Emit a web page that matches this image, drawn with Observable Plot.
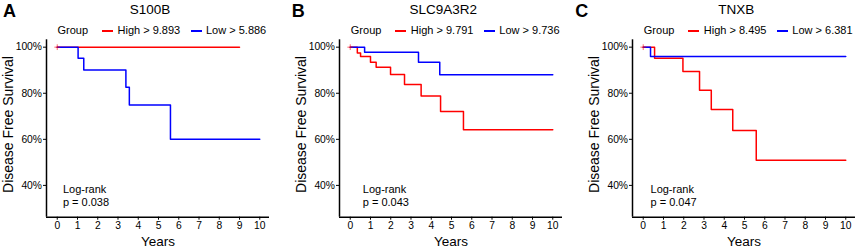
<!DOCTYPE html>
<html><head><meta charset="utf-8">
<script src="https://cdn.jsdelivr.net/npm/d3@7"></script>
<script src="https://cdn.jsdelivr.net/npm/@observablehq/plot@0.6"></script>
<style>
body{margin:0;background:#fff;font-family:"Liberation Sans",Arial,Helvetica,sans-serif;}
#wrap{position:relative;width:858px;height:249px;overflow:hidden;background:#fff;}
.abs{position:absolute;white-space:nowrap;line-height:1;color:#000;}
.letter{font-size:18px;font-weight:bold;}
.title{font-size:13.5px;transform:translateX(-50%);}
.leg{font-size:11px;}
.sw{position:absolute;height:2px;width:11px;}
svg{position:absolute;top:0;}
</style></head><body><div id="wrap"></div>
<script>
// ---- data ----
const panelLetters = ["A", "B", "C"];
const genes = ["S100B", "SLC9A3R2", "TNXB"];
const legendTitle = "Group";
const highLabels = ["High > 9.893", "High > 9.791", "High > 8.495"];
const lowLabels = ["Low > 5.886", "Low > 9.736", "Low > 6.381"];
const pValues = ["p = 0.038", "p = 0.043", "p = 0.047"];
const xTicks = [0, 1, 2, 3, 4, 5, 6, 7, 8, 9, 10];
const yTicks = [0.4, 0.6, 0.8, 1.0];
const xLabel = "Years";
const yLabel = "Disease Free Survival";

// Panel A: S100B
const aHighTime = [0, 9];
const aHighSurv = [1, 1];
const aLowTime = [0, 1.03, 1.31, 3.39, 3.56, 5.59, 10];
const aLowSurv = [1, 0.952, 0.901, 0.826, 0.749, 0.600, 0.600];
// Panel B: SLC9A3R2
const bHighTime = [0, 0.35, 0.51, 1.0, 1.28, 1.99, 2.68, 3.5, 4.46, 5.59, 10];
const bHighSurv = [1, 0.975, 0.959, 0.935, 0.913, 0.881, 0.838, 0.788, 0.721, 0.642, 0.642];
const bLowTime = [0, 0.71, 3.37, 4.42, 10];
const bLowSurv = [1, 0.978, 0.935, 0.880, 0.880];
// Panel C: TNXB
const cHighTime = [0, 0.56, 1.96, 2.78, 3.36, 4.42, 5.58, 10];
const cHighSurv = [1, 0.952, 0.894, 0.813, 0.729, 0.638, 0.509, 0.509];
const cLowTime = [0, 0.36, 10];
const cLowSurv = [1, 0.959, 0.959];

const logRankX = [0.28, 0.62, 0.36];
const logRankY = 0.3575;

const highColor = "#ff0000";
const lowColor = "#0000ff";

// ---- layout ----
const axisX = [46, 339.3, 632.3];
const plotW = 223;
const xDomain = [-0.53, 10.48];
const yDomain = [0.262, 1.032];

const zip = (t, s) => t.map((v, i) => ({t: v, s: s[i]}));
const highs = [zip(aHighTime, aHighSurv), zip(bHighTime, bHighSurv), zip(cHighTime, cHighSurv)];
const lows = [zip(aLowTime, aLowSurv), zip(bLowTime, bLowSurv), zip(cLowTime, cLowSurv)];

const wrap = document.getElementById("wrap");
const font = '"Liberation Sans", Arial, Helvetica, sans-serif';

function addDiv(cls, text, left, top, extra) {
  const d = document.createElement("div");
  d.className = "abs " + cls;
  d.textContent = text;
  d.style.left = left + "px";
  d.style.top = top + "px";
  if (extra) Object.assign(d.style, extra);
  wrap.appendChild(d);
  return d;
}
function addSwatch(left, top, color) {
  const d = document.createElement("div");
  d.className = "sw";
  d.style.left = left + "px";
  d.style.top = top + "px";
  d.style.backgroundColor = color;
  wrap.appendChild(d);
}

for (let i = 0; i < 3; i++) {
  const left = axisX[i] - 46;
  const w = i < 2 ? 293 : 858 - left;
  const plot = Plot.plot({
    width: w,
    height: 249,
    marginLeft: 46,
    marginRight: w - 46 - plotW,
    marginTop: 39.3,
    marginBottom: 32.3,
    style: {background: "transparent", fontFamily: font, fontSize: "10.3px", color: "#000", overflow: "visible"},
    x: {domain: xDomain, ticks: xTicks, tickSize: 3, tickPadding: 1.2, label: null},
    y: {domain: yDomain, ticks: yTicks, tickFormat: d3.format(".0%"), tickSize: 3, tickPadding: 1.5, label: null},
    marks: [
      Plot.ruleX([xDomain[0]], {stroke: "#000", strokeWidth: 1.5}),
      Plot.ruleY([yDomain[0]], {stroke: "#000", strokeWidth: 1.5}),
      Plot.line(highs[i], {x: "t", y: "s", curve: "step-after", stroke: highColor, strokeWidth: 1.5}),
      Plot.line(lows[i], {x: "t", y: "s", curve: "step-after", stroke: lowColor, strokeWidth: 1.5}),
      Plot.dot([highs[i][0]], {x: "t", y: "s", symbol: "plus", r: 2, stroke: highColor, strokeWidth: 1, strokeOpacity: 0.6}),
      Plot.text([{x: logRankX[i], y: logRankY, label: "Log-rank\n" + pValues[i]}], {
        x: "x", y: "y", text: "label", textAnchor: "start", lineAnchor: "middle",
        lineHeight: 1.25, fontSize: 11, fill: "#000"
      }),
      Plot.text([yLabel], {frameAnchor: "left", textAnchor: "middle", lineAnchor: "middle", rotate: -90, dx: -38, dy: -4, fontSize: 14, fill: "#000"}),
      Plot.text([xLabel], {frameAnchor: "bottom", textAnchor: "middle", lineAnchor: "top", dy: 18.8, fontSize: 13.5, fill: "#000"})
    ]
  });
  plot.style.left = left + "px";
  wrap.appendChild(plot);

  const ax = axisX[i];
  const letterLeft = [3, 291.7, 575.3][i];
  addDiv("letter", panelLetters[i], letterLeft, 1.5);
  addDiv("title", genes[i], ax + 104, 2.6);
  addDiv("leg", legendTitle, ax + 11.5, 24.7);
  addSwatch(ax + 55.5, 30, highColor);
  addDiv("leg", highLabels[i], ax + 71.5, 24.7);
  addSwatch(ax + 144.5, 30, lowColor);
  addDiv("leg", lowLabels[i], ax + 160, 24.7);
}
</script></body></html>
